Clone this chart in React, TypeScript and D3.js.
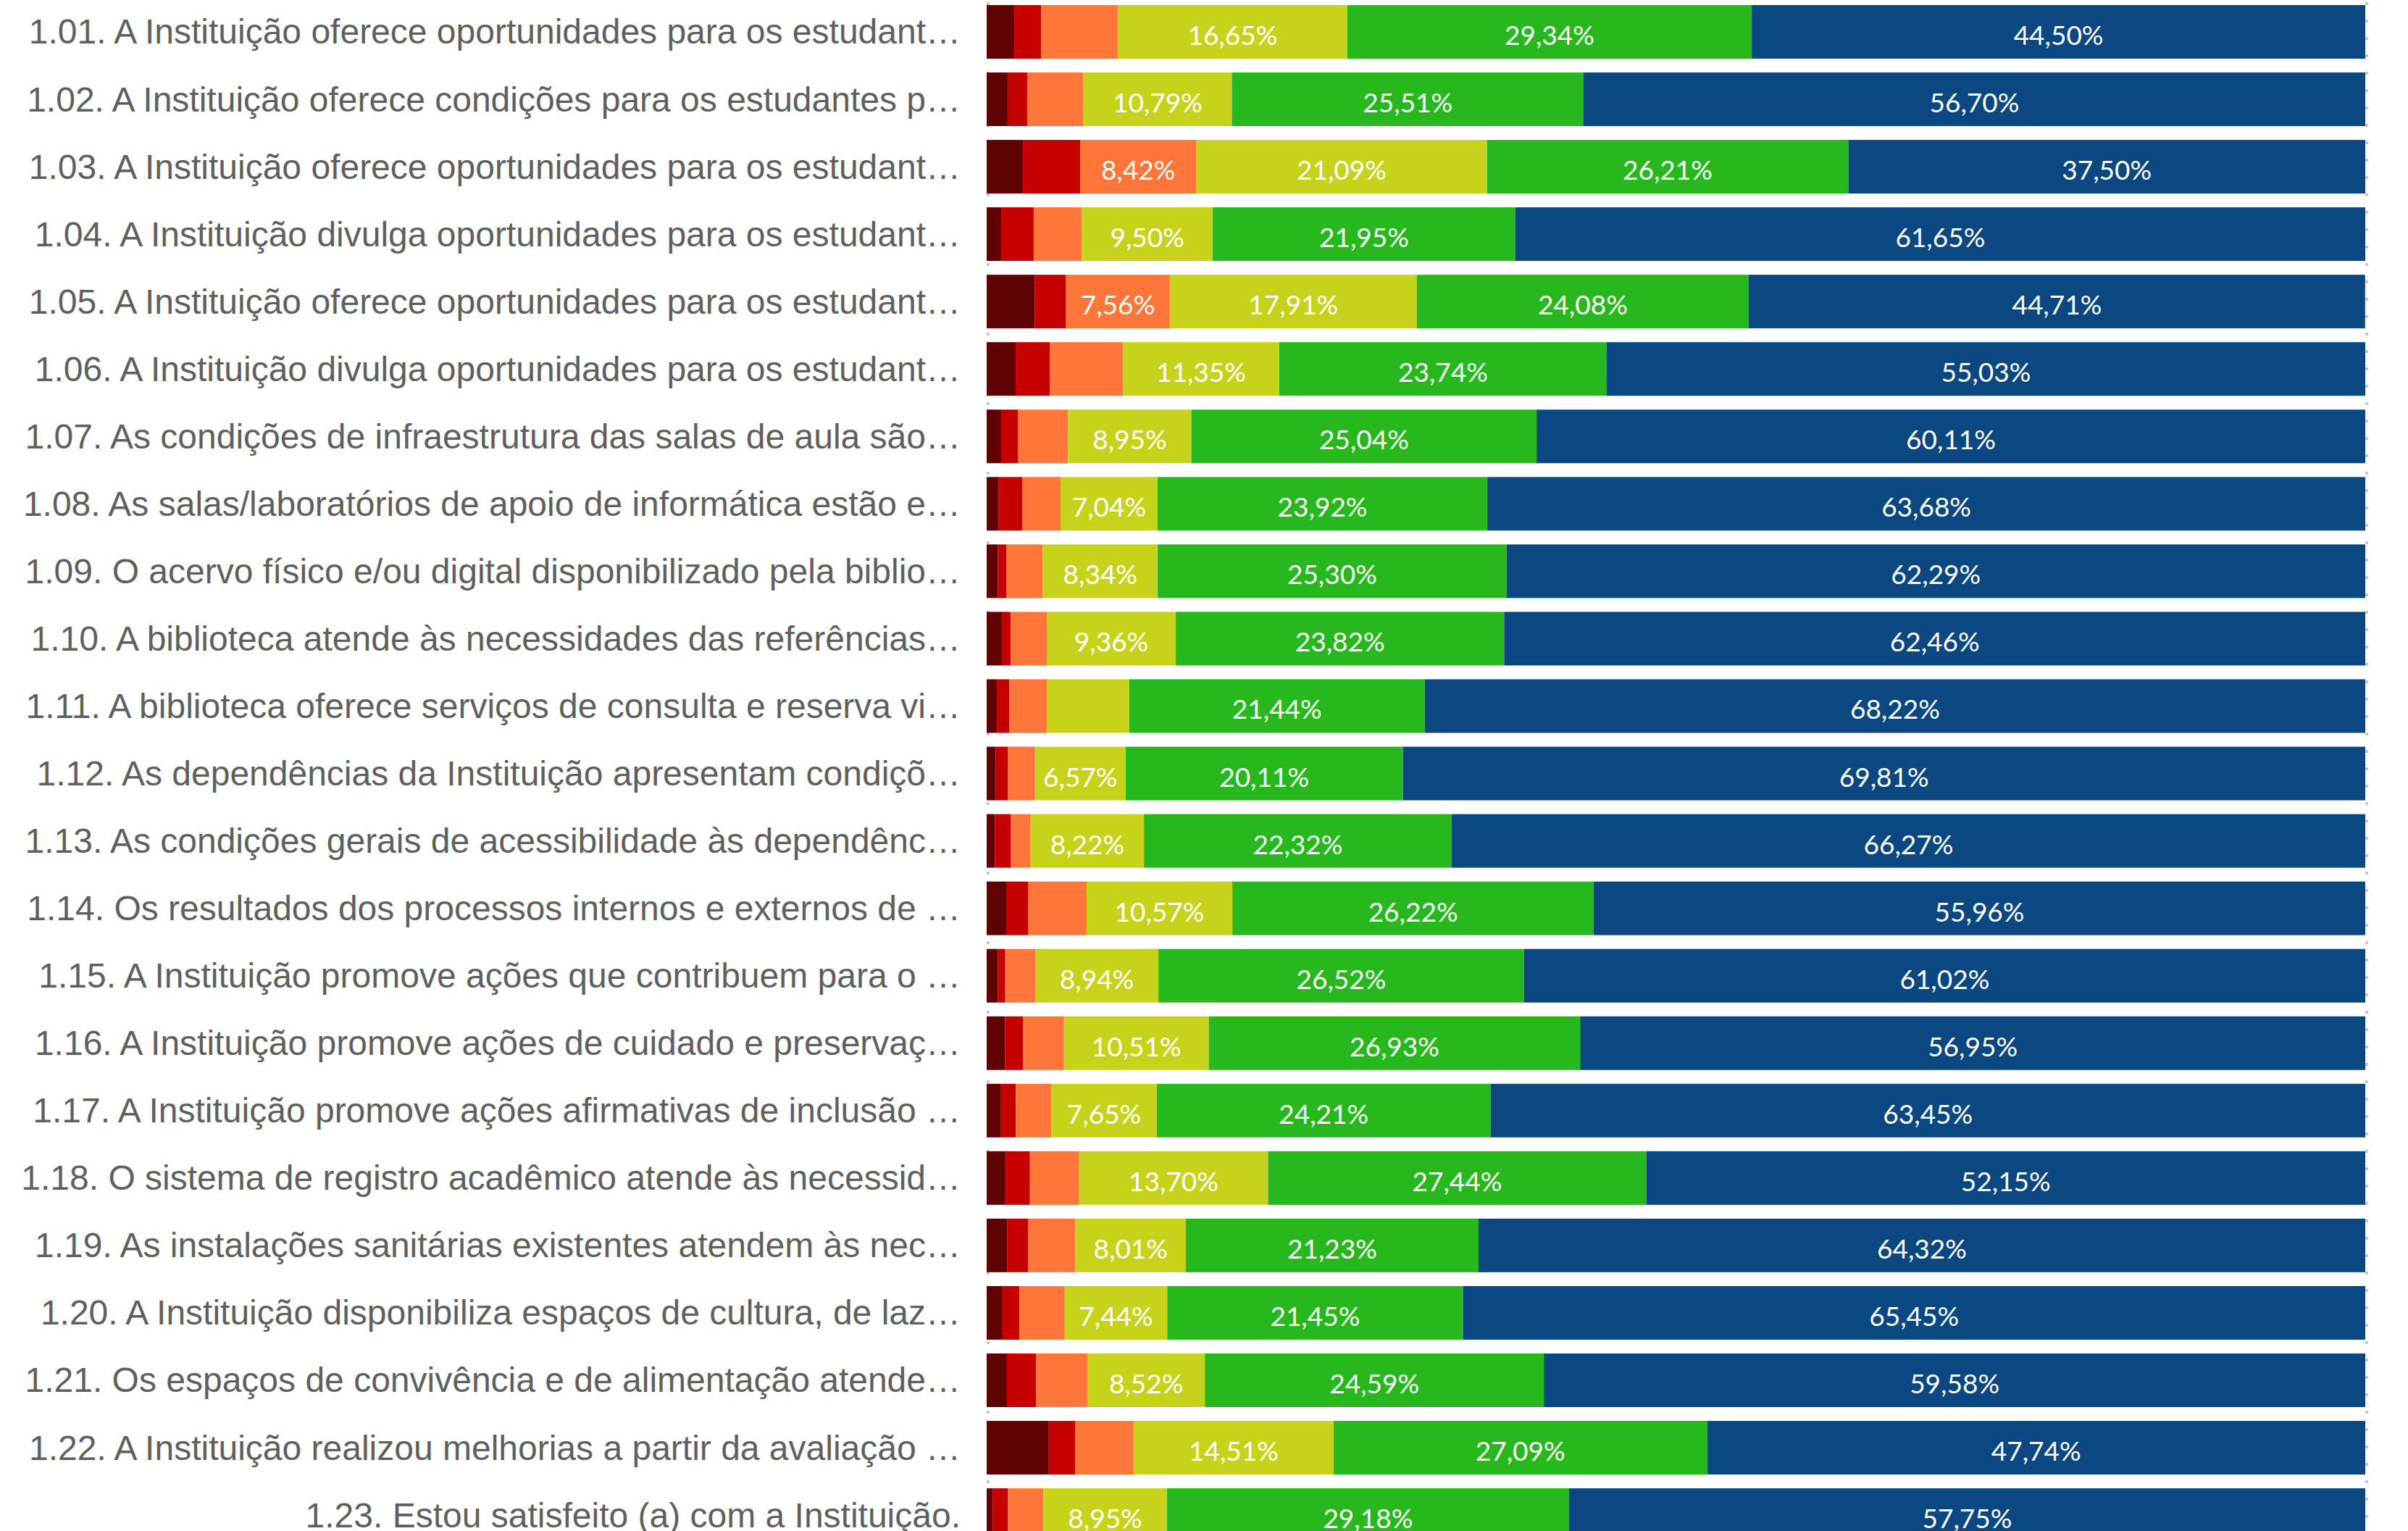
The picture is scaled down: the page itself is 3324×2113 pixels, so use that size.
import React from "react";
import * as d3 from "d3";

const categories: string[] = [
  "1.01. A Instituição oferece oportunidades para os estudant…",
  "1.02. A Instituição oferece condições para os estudantes p…",
  "1.03. A Instituição oferece oportunidades para os estudant…",
  "1.04. A Instituição divulga oportunidades para os estudant…",
  "1.05. A Instituição oferece oportunidades para os estudant…",
  "1.06. A Instituição divulga oportunidades para os estudant…",
  "1.07. As condições de infraestrutura das salas de aula são…",
  "1.08. As salas/laboratórios de apoio de informática estão e…",
  "1.09. O acervo físico e/ou digital disponibilizado pela biblio…",
  "1.10. A biblioteca atende às necessidades das referências…",
  "1.11. A biblioteca oferece serviços de consulta e reserva vi…",
  "1.12. As dependências da Instituição apresentam condiçõ…",
  "1.13. As condições gerais de acessibilidade às dependênc…",
  "1.14. Os resultados dos processos internos e externos de …",
  "1.15. A Instituição promove ações que contribuem para o …",
  "1.16. A Instituição promove ações de cuidado e preservaç…",
  "1.17. A Instituição promove ações afirmativas de inclusão …",
  "1.18. O sistema de registro acadêmico atende às necessid…",
  "1.19. As instalações sanitárias existentes atendem às nec…",
  "1.20. A Instituição disponibiliza espaços de cultura, de laz…",
  "1.21. Os espaços de convivência e de alimentação atende…",
  "1.22. A Instituição realizou melhorias a partir da avaliação …",
  "1.23. Estou satisfeito (a) com a Instituição.",
];

// series, left to right (1 = worst ... 6 = best)
const s1: number[] = [2.0, 1.52, 2.63, 1.05, 3.48, 2.1, 1.05, 0.85, 0.8, 1.1, 0.74, 0.64, 0.59, 1.42, 0.8, 1.33, 1.0, 1.36, 1.48, 1.15, 1.47, 4.47, 0.43];
const s2: number[] = [1.94, 1.42, 4.15, 2.36, 2.25, 2.47, 1.21, 1.75, 0.64, 0.63, 0.89, 0.91, 1.17, 1.58, 0.55, 1.33, 1.11, 1.78, 1.53, 1.21, 2.1, 1.94, 1.11];
const s3: number[] = [5.57, 4.06, 8.42, 3.49, 7.56, 5.31, 3.64, 2.76, 2.63, 2.63, 2.74, 1.96, 1.43, 4.25, 2.17, 2.95, 2.58, 3.57, 3.43, 3.3, 3.74, 4.25, 2.58];
const s4: number[] = [16.65, 10.79, 21.09, 9.5, 17.91, 11.35, 8.95, 7.04, 8.34, 9.36, 5.97, 6.57, 8.22, 10.57, 8.94, 10.51, 7.65, 13.7, 8.01, 7.44, 8.52, 14.51, 8.95];
const s5: number[] = [29.34, 25.51, 26.21, 21.95, 24.08, 23.74, 25.04, 23.92, 25.3, 23.82, 21.44, 20.11, 22.32, 26.22, 26.52, 26.93, 24.21, 27.44, 21.23, 21.45, 24.59, 27.09, 29.18];
const s6: number[] = [44.5, 56.7, 37.5, 61.65, 44.71, 55.03, 60.11, 63.68, 62.29, 62.46, 68.22, 69.81, 66.27, 55.96, 61.02, 56.95, 63.45, 52.15, 64.32, 65.45, 59.58, 47.74, 57.75];

const seriesKeys = ["s1", "s2", "s3", "s4", "s5", "s6"];
const seriesColors = ["#5e0204", "#c60000", "#ff763a", "#c7d31a", "#27b81e", "#0b4881"];

const W = 3324;
const H = 2113;

export default function App() {
  const rows = categories.map((c, i) => ({
    cat: c,
    s1: s1[i],
    s2: s2[i],
    s3: s3[i],
    s4: s4[i],
    s5: s5[i],
    s6: s6[i],
  }));
  const stack = d3.stack<any>().keys(seriesKeys);
  const stacked = stack(rows);

  const x = d3.scaleLinear().domain([0, 100]).range([1362, 3265]);
  const step = 93.05;
  const pi = 0.205;
  const po = 0.1025;
  const y = d3
    .scaleBand<string>()
    .domain(categories)
    .range([7 - po * step, 7 - po * step + step * categories.length])
    .paddingInner(pi)
    .paddingOuter(po);
  const bw = y.bandwidth();

  const valueFont = 37;
  const fmt = (v: number) => v.toFixed(2).replace(".", ",") + "%";
  const labelWidth = (s: string) => {
    let w = 0;
    for (const ch of s) {
      if (ch === ",") w += 0.2;
      else if (ch === "%") w += 0.82;
      else w += 0.58;
    }
    return w * valueFont;
  };

  return (
    <svg
      width={W}
      height={H}
      style={{ position: "absolute", left: 0, top: 0, display: "block", background: "#fff" }}
    >
      {[0, 100].map((t) => (
        <line
          key={t}
          x1={x(t) + 2}
          x2={x(t) + 2}
          y1={3}
          y2={H}
          stroke="#c8c8c8"
          strokeWidth={4}
          strokeDasharray="4 20"
        />
      ))}
      {stacked.map((layer, li) => (
        <g key={layer.key} fill={seriesColors[li]}>
          {layer.map((d, i) => (
            <rect
              key={i}
              x={x(d[0])}
              y={y(categories[i])}
              width={Math.max(0, x(d[1]) - x(d[0]))}
              height={bw}
            />
          ))}
        </g>
      ))}
      {stacked.map((layer) => (
        <g key={"l" + layer.key}>
          {layer.map((d, i) => {
            const v = d[1] - d[0];
            const s = fmt(v);
            const segW = x(d[1]) - x(d[0]);
            if (labelWidth(s) + 20 > segW) return null;
            return (
              <text
                key={i}
                x={(x(d[0]) + x(d[1])) / 2}
                y={(y(categories[i]) as number) + bw / 2 + 18}
                textAnchor="middle"
                fill="#ffffff"
                fontFamily="Lato, 'Open Sans', sans-serif"
                fontSize={valueFont}
              >
                {s}
              </text>
            );
          })}
        </g>
      ))}
      {categories.map((c) => (
        <text
          key={c}
          x={1326}
          y={(y(c) as number) + bw / 2 + 16.5}
          textAnchor="end"
          fill="#5f5f5f"
          fontFamily="'Liberation Sans', Arial, sans-serif"
          fontSize={48}
        >
          {c}
        </text>
      ))}
    </svg>
  );
}
